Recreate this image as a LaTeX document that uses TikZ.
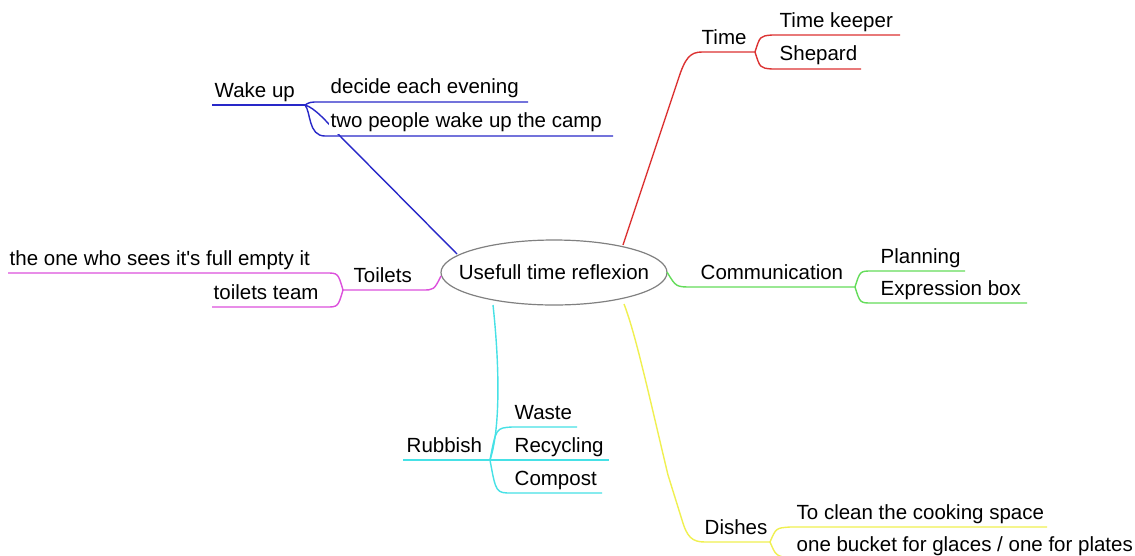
\documentclass[tikz,border=0pt]{standalone}
\usepackage{fontspec}
\setmainfont{Liberation Sans}
\usetikzlibrary{shapes.geometric}
\definecolor{cBlue}{RGB}{40,40,200}
\definecolor{cRed}{RGB}{220,50,50}
\definecolor{cGreen}{RGB}{100,220,90}
\definecolor{cMag}{RGB}{220,80,220}
\definecolor{cCyan}{RGB}{70,225,230}
\definecolor{cYel}{RGB}{240,240,80}
\begin{document}
\begin{tikzpicture}[x=1pt,y=-1pt,
  br/.style={line width=1.4pt},
  lbl/.style={anchor=base west, inner xsep=1.5pt, inner ysep=3pt, font=\fontsize{20.5pt}{24pt}\selectfont},
  mask/.style={fill=white}]
\useasboundingbox (0,0) rectangle (1135,555);
\fill[white] (0,0) rectangle (1135,555);

% root
\node[ellipse, draw=gray, line width=1.2pt, minimum width=226pt, minimum height=65pt, inner sep=0pt] (root) at (554,272.5) {};
\node[font=\fontsize{20.5pt}{24pt}\selectfont, inner sep=0pt] (rootlbl) at (root.center) {Usefull time reflexion};

% branch starts and hubs
\coordinate (wkS) at (457,254);  \coordinate (wkH) at (305,105);
\coordinate (tmS) at (623,245);  \coordinate (tmH) at (755,52);
\coordinate (cmS) at (667,272);  \coordinate (cmH) at (855,287);
\coordinate (tlS) at (441,276);  \coordinate (tlH) at (343,290);
\coordinate (rbS) at (493,305);  \coordinate (rbH) at (490,460);
\coordinate (dsS) at (624,304);  \coordinate (dsH) at (770,542);

% Wake up (blue)
\draw[br,cBlue] (wkS) -- (340,136) .. controls (326,121) and (315,108) .. (wkH);
\draw[br,cBlue] (212,105) -- (wkH);
\draw[br,cBlue] (wkH) .. controls (310,102) .. (320,102) -- (528,102);
\draw[br,cBlue] (wkH) .. controls (311,112) and (308,136) .. (325,136) -- (613,136);

% Time (red)
\draw[br,cRed] (tmS) -- (678,80) .. controls (685,58) and (690,52) .. (702,52) -- (tmH);
\draw[br,cRed] (tmH) .. controls (760,36) .. (772,35) -- (900,35);
\draw[br,cRed] (tmH) .. controls (760,68) .. (772,69) -- (861,69);

% Communication (green)
\draw[br,cGreen] (cmS) .. controls (676,287) .. (692,287) -- (cmH);
\draw[br,cGreen] (cmH) .. controls (860,271) .. (872,271) -- (965,271);
\draw[br,cGreen] (cmH) .. controls (860,303) .. (872,303) -- (1027,303);

% Toilets (magenta)
\draw[br,cMag] (tlS) .. controls (434,290) .. (422,290) -- (tlH);
\draw[br,cMag] (tlH) .. controls (338,273) .. (326,273) -- (8,273);
\draw[br,cMag] (tlH) .. controls (338,307) .. (326,307) -- (212,307);

% Rubbish (cyan)
\draw[br,cCyan] (rbS) .. controls (500,370) and (500,430) .. (rbH);
\draw[br,cCyan] (403,460) -- (rbH) -- (609,460);
\draw[br,cCyan] (rbH) .. controls (496,428) .. (512,427) -- (577,427);
\draw[br,cCyan] (rbH) .. controls (496,493) .. (512,493) -- (602,493);

% Dishes (yellow)
\draw[br,cYel] (dsS) .. controls (636,335) and (650,400) .. (668,475) -- (682,520)
  .. controls (687,537) and (692,542) .. (705,542) -- (dsH);
\draw[br,cYel] (dsH) .. controls (776,528) .. (790,527) -- (1047,527);
\draw[br,cYel] (dsH) .. controls (776,556) .. (790,558) -- (1135,558);

% labels
\node[lbl] (wake) at (213,97) {Wake up};
\node[lbl] (decide) at (329,93) {decide each evening};
\node[lbl,mask] (two) at (329,127) {two people wake up the camp};
\node[lbl] (time) at (700,44) {Time};
\node[lbl] (tk) at (778,27) {Time keeper};
\node[lbl] (shep) at (778,60) {Shepard};
\node[lbl] (comm) at (699,279) {Communication};
\node[lbl] (plan) at (879,263) {Planning};
\node[lbl] (expr) at (879,295) {Expression box};
\node[lbl] (toil) at (352,282) {Toilets};
\node[lbl] (full) at (8,265) {the one who sees it\textquotesingle s full empty it};
\node[lbl] (team) at (212,299) {toilets team};
\node[lbl] (rub) at (405,452) {Rubbish};
\node[lbl] (waste) at (513,419) {Waste};
\node[lbl] (recy) at (513,452) {Recycling};
\node[lbl] (comp) at (513,485) {Compost};
\node[lbl] (dish) at (703,534) {Dishes};
\node[lbl] (clean) at (795,519) {To clean the cooking space};
\node[lbl] (bucket) at (795,551) {one bucket for glaces / one for plates};
\end{tikzpicture}
\end{document}
